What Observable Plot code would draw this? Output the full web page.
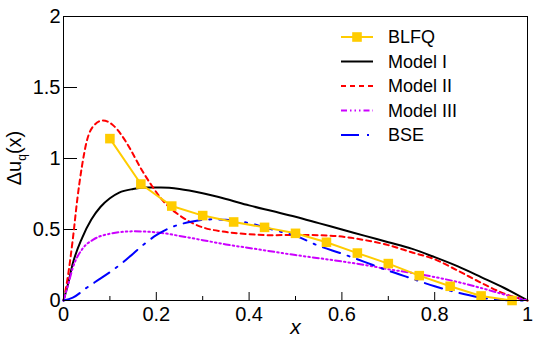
<!DOCTYPE html>
<html><head><meta charset="utf-8">
<script src="https://cdn.jsdelivr.net/npm/d3@7"></script>
<script src="https://cdn.jsdelivr.net/npm/@observablehq/plot@0.6"></script>
<style>
body{margin:0;background:#fff;}
svg text{font-family:'Liberation Sans',Arial,Helvetica,sans-serif;}
</style></head><body><div id="chart"></div>
<script>
// ---- data ----
const xMajor = [0, 0.2, 0.4, 0.6, 0.8, 1];
const xMinor = [0.1, 0.3, 0.5, 0.7, 0.9];
const yMajor = [0, 0.5, 1, 1.5, 2];

const blfqX = [0.1, 0.1667, 0.2333, 0.3, 0.3667, 0.4333, 0.5, 0.5667, 0.6333, 0.7, 0.7667, 0.8333, 0.9, 0.9667];
const blfqY = [1.14, 0.82, 0.665, 0.598, 0.553, 0.515, 0.473, 0.41, 0.334, 0.26, 0.175, 0.1, 0.032, 0.0];

const m1X = [0, 0.01, 0.02, 0.04, 0.06, 0.08, 0.10, 0.12, 0.15, 0.18, 0.21, 0.25, 0.30, 0.35, 0.40, 0.45, 0.50, 0.55, 0.60, 0.65, 0.70, 0.75, 0.80, 0.85, 0.90, 0.95, 1.0];
const m1Y = [0, 0.12, 0.26, 0.44, 0.57, 0.66, 0.72, 0.76, 0.785, 0.795, 0.795, 0.785, 0.755, 0.715, 0.67, 0.63, 0.59, 0.545, 0.50, 0.455, 0.41, 0.365, 0.305, 0.24, 0.165, 0.088, 0];

const m2X = [0, 0.008, 0.02, 0.03, 0.04, 0.05, 0.065, 0.085, 0.105, 0.125, 0.145, 0.165, 0.19, 0.21, 0.23, 0.25, 0.275, 0.30, 0.34, 0.38, 0.45, 0.50, 0.55, 0.60, 0.65, 0.70, 0.75, 0.80, 0.85, 0.90, 0.95, 1.0];
const m2Y = [0, 0.14, 0.43, 0.72, 0.95, 1.12, 1.23, 1.268, 1.24, 1.165, 1.06, 0.94, 0.81, 0.72, 0.65, 0.60, 0.55, 0.515, 0.487, 0.472, 0.46, 0.462, 0.46, 0.45, 0.425, 0.39, 0.34, 0.29, 0.21, 0.125, 0.048, 0];

const m3X = [0, 0.01, 0.02, 0.04, 0.065, 0.10, 0.15, 0.20, 0.25, 0.30, 0.35, 0.40, 0.45, 0.50, 0.55, 0.60, 0.65, 0.70, 0.75, 0.80, 0.85, 0.90, 0.95, 1.0];
const m3Y = [0, 0.11, 0.23, 0.36, 0.43, 0.47, 0.487, 0.48, 0.455, 0.425, 0.395, 0.37, 0.345, 0.32, 0.298, 0.275, 0.25, 0.22, 0.195, 0.165, 0.13, 0.088, 0.042, 0];

const bseX = [0, 0.02, 0.05, 0.075, 0.10, 0.125, 0.15, 0.175, 0.20, 0.225, 0.25, 0.275, 0.30, 0.325, 0.35, 0.40, 0.45, 0.50, 0.55, 0.60, 0.65, 0.70, 0.75, 0.80, 0.85, 0.90, 0.95, 1.0];
const bseY = [0, 0.02, 0.09, 0.145, 0.20, 0.26, 0.33, 0.40, 0.46, 0.505, 0.535, 0.555, 0.568, 0.572, 0.568, 0.545, 0.50, 0.455, 0.385, 0.33, 0.27, 0.21, 0.155, 0.10, 0.055, 0.02, 0.004, 0];

const seriesNames = ["BLFQ", "Model I", "Model II", "Model III", "BSE"];
const seriesColors = ["#ffcc00", "#000000", "#ff0000", "#cc00ff", "#0000ff"];
const seriesDash = [null, null, "5,4", "6,3,1.5,3,1.5,3,1.5,3", "18,8,2,8"];

const rows = (xs, ys) => xs.map((x, i) => ({x, y: ys[i]}));
const curves = [
  {d: rows(m1X, m1Y), i: 1},
  {d: rows(m2X, m2Y), i: 2},
  {d: rows(m3X, m3Y), i: 3},
  {d: rows(bseX, bseY), i: 4}
];
const blfq = rows(blfqX, blfqY);
const fmt = d => String(d);

const chart = Plot.plot({
  width: 536, height: 342,
  marginLeft: 63, marginRight: 9, marginTop: 16, marginBottom: 42,
  style: {fontFamily: "'Liberation Sans', Arial, sans-serif", fontSize: "20px", background: "white", color: "black"},
  x: {domain: [0, 1]},
  y: {domain: [0, 2]},
  marks: [
    Plot.axisX({ticks: xMajor, tickSize: -8, tickPadding: 14, tickFormat: fmt, label: null, fontSize: 20, stroke: "black"}),
    Plot.axisX({ticks: xMinor, tickSize: -4, tickFormat: () => "", label: null, stroke: "black"}),
    Plot.axisY({ticks: yMajor, tickSize: -14, tickPadding: 17, tickFormat: fmt, label: null, fontSize: 20, stroke: "black"}),
    ...curves.map(c => Plot.line(c.d, {x: "x", y: "y", stroke: seriesColors[c.i], strokeWidth: 2, strokeDasharray: seriesDash[c.i], curve: "monotone-x"})),
    Plot.line(blfq, {x: "x", y: "y", stroke: seriesColors[0], strokeWidth: 2}),
    Plot.dot(blfq, {x: "x", y: "y", symbol: "square", r: 5.4, fill: seriesColors[0], stroke: "none"}),
    Plot.text(["x"], {frameAnchor: "bottom", dy: 33, fontStyle: "italic", fontSize: 21, fill: "black"}),
    Plot.frame({stroke: "black", strokeWidth: 1})
  ]
});
document.getElementById("chart").appendChild(chart);

// y-axis title with subscript
const svg = d3.select(chart.tagName.toLowerCase() === "svg" ? chart : chart.querySelector("svg"));
const yt = svg.append("text")
  .attr("transform", "translate(21,158) rotate(-90)")
  .attr("text-anchor", "middle")
  .attr("font-size", 20)
  .attr("fill", "black");
yt.append("tspan").text("Δu");
yt.append("tspan").attr("font-size", 12).attr("dy", 5).text("q");
yt.append("tspan").attr("dy", -5).text("(x)");

// legend
const lg = svg.append("g").attr("text-anchor", "start");
const rowY = [37, 61.5, 86, 110.5, 135];
seriesNames.forEach((name, i) => {
  const g = lg.append("g").attr("transform", `translate(0,${rowY[i]})`);
  g.append("line").attr("x1", 341).attr("x2", 373).attr("y1", 0).attr("y2", 0)
    .attr("stroke", seriesColors[i]).attr("stroke-width", 2)
    .attr("stroke-dasharray", seriesDash[i]);
  if (i === 0) g.append("rect").attr("x", 352.2).attr("y", -4.8).attr("width", 9.6).attr("height", 9.6).attr("fill", seriesColors[0]);
  g.append("text").attr("x", 388).attr("y", 0).attr("dy", "0.35em").attr("text-anchor", "start").attr("font-size", 18).attr("fill", "black").text(name);
});
</script></body></html>
